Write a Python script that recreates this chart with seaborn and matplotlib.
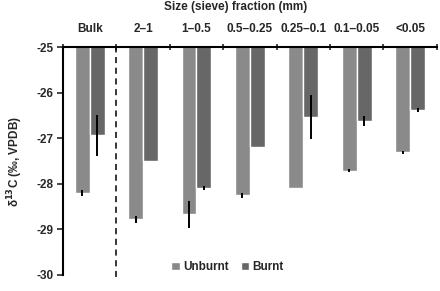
import numpy as np
import pandas as pd
import matplotlib
matplotlib.use("Agg")
import matplotlib.pyplot as plt
import seaborn as sns

# --- data ---
fractions = ["Bulk", "2\u20131", "1\u20130.5", "0.5\u20130.25", "0.25\u20130.1", "0.1\u20130.05", "<0.05"]
unburnt = [-28.20, -28.78, -28.67, -28.25, -28.09, -27.71, -27.31]
unburnt_err = [0.07, 0.08, 0.30, 0.06, 0.0, 0.04, 0.03]
burnt = [-26.93, -27.49, -28.09, -27.20, -26.54, -26.62, -26.38]
burnt_err = [0.45, 0.0, 0.05, 0.0, 0.48, 0.10, 0.04]

PALETTE = {"Unburnt": "#8a8a8a", "Burnt": "#676767"}

df = pd.DataFrame({
    "Fraction": fractions * 2,
    "Treatment": ["Unburnt"] * len(fractions) + ["Burnt"] * len(fractions),
    "d13C": unburnt + burnt,
    "err": unburnt_err + burnt_err,
})

sns.set_style("white")
plt.rcParams["font.family"] = ["Liberation Sans", "DejaVu Sans"]
plt.rcParams["font.weight"] = "bold"
FS = 8.5

fig = plt.figure(figsize=(4.4, 2.91), dpi=100)
ax = fig.add_axes([0.143, 0.055, 0.85, 0.783])

sns.barplot(data=df, x="Fraction", y="d13C", hue="Treatment", palette=PALETTE,
            width=0.56, gap=0, errorbar=None, saturation=1, ax=ax, legend=True)

# error bars on top of each bar (bars are stored hue-major)
for patch, e in zip(ax.patches, df["err"]):
    if e > 0:
        xc = patch.get_x() + patch.get_width() / 2
        ax.errorbar(xc, patch.get_height(), yerr=e, fmt="none", ecolor="black",
                    elinewidth=1.4, capsize=0)

ax.set_ylim(-30, -25)
ax.set_xlim(-0.5, len(fractions) - 0.5)
ax.axvline(0.5, ymax=1, ymin=-0.01, color="black", linestyle=(0, (4, 3)),
           linewidth=1.1, clip_on=False)

# axis decoration: x labels on top
ax.xaxis.tick_top()
ax.xaxis.set_label_position("top")
ax.set_xlabel("")
ax.set_xticks(range(len(fractions)))
ax.set_xticklabels(fractions, fontsize=FS, fontweight="bold")
ax.set_xticks(np.arange(-0.5, len(fractions), 1), minor=True)
ax.tick_params(axis="x", which="major", length=0, pad=9)
ax.tick_params(axis="x", which="minor", top=True, direction="inout", length=5, width=1.2)
ax.set_yticks([-30, -29, -28, -27, -26, -25])
ax.set_yticklabels(["-30", "-29", "-28", "-27", "-26", "-25"], fontsize=FS, fontweight="bold")
ax.tick_params(axis="y", left=True, direction="out", length=4, width=1.2, pad=3)
ax.set_ylabel("\u03b4$^{13}$C (\u2030, VPDB)", fontsize=FS, fontweight="bold", labelpad=8)

for side in ["bottom", "right"]:
    ax.spines[side].set_visible(False)
for side in ["left", "top"]:
    ax.spines[side].set_color("black")
    ax.spines[side].set_linewidth(1.5)

fig.text(0.536, 0.997, "Size (sieve) fraction (mm)", ha="center", va="top",
         fontsize=FS, fontweight="bold")

ax.legend(title=None, frameon=False, ncol=2, loc="center",
          bbox_to_anchor=(0.44, 0.035), fontsize=FS, handlelength=0.7,
          handleheight=0.7, handletextpad=0.3, columnspacing=1.0)

fig.savefig("out.png", dpi=100)
